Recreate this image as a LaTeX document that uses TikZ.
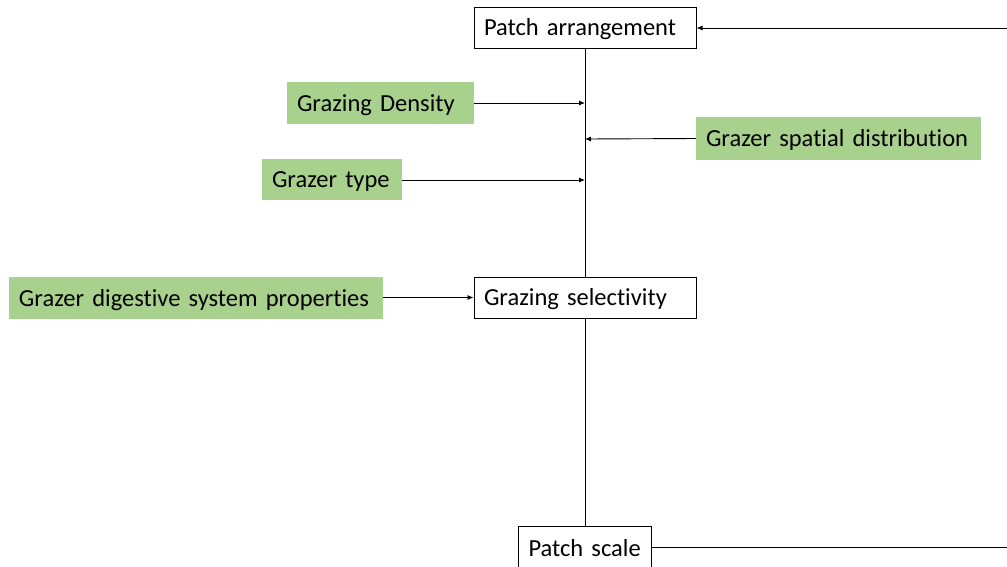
\documentclass[tikz,border=0pt]{standalone}
\usepackage{fontspec}
\setmainfont{Carlito}[Ligatures=NoCommon]
\usetikzlibrary{arrows.meta}
\definecolor{grn}{RGB}{169,209,142}
\tikzset{
  lbl/.style={inner ysep=0pt, inner xsep=10pt, align=left, text height=18pt, text depth=2pt, font=\fontsize{24.5}{27}\selectfont},
  wbox/.style={lbl, draw=black, line width=1pt, fill=white},
  gbox/.style={lbl, fill=grn},
  conn/.style={line width=0.9pt, -{Latex[length=6pt,width=5pt]}},
  plain/.style={line width=0.9pt}
}
\begin{document}
\begin{tikzpicture}[x=1pt,y=-1pt]
\useasboundingbox (0,0) rectangle (1007,566);
\node[wbox, text width=202pt, minimum height=41pt] (pa) at (585,27.5) {Patch arrangement};
\node[wbox, text width=202pt, minimum height=41pt] (gs) at (585,297.5) {Grazing selectivity};
\node[wbox, text width=113pt, minimum height=44pt, anchor=north west] (ps) at (518,526) {Patch scale};
\node[gbox, text width=167pt, minimum height=42pt] (gd) at (380.5,103) {Grazing Density};
\node[gbox, text width=265pt, minimum height=43pt] (sd) at (838.5,138.5) {Grazer spatial distribution};
\node[gbox, text width=120pt, minimum height=41pt] (gt) at (332,179.5) {Grazer type};
\node[gbox, text width=354pt, minimum height=42pt] (dg) at (196,298) {Grazer digestive system properties};
\coordinate (j1) at (585,103);
\coordinate (j2) at (585,139);
\coordinate (j3) at (585,180);
\coordinate (rt) at (1007,28);
\coordinate (rb) at (1007,547);
\draw[plain] (pa.south) -- (gs.north);
\draw[plain] (gs.south) -- (ps.north -| gs.south);
\draw[conn] (gd.east) -- (j1);
\draw[conn] (sd.west) -- (j2);
\draw[conn] (gt.east |- j3) -- (j3);
\draw[conn] (dg.east |- gs.west) -- (gs.west);
\draw[conn] (rt) -- (pa.east |- rt);
\draw[plain] (ps.east |- rb) -- (rb);
\end{tikzpicture}
\end{document}
